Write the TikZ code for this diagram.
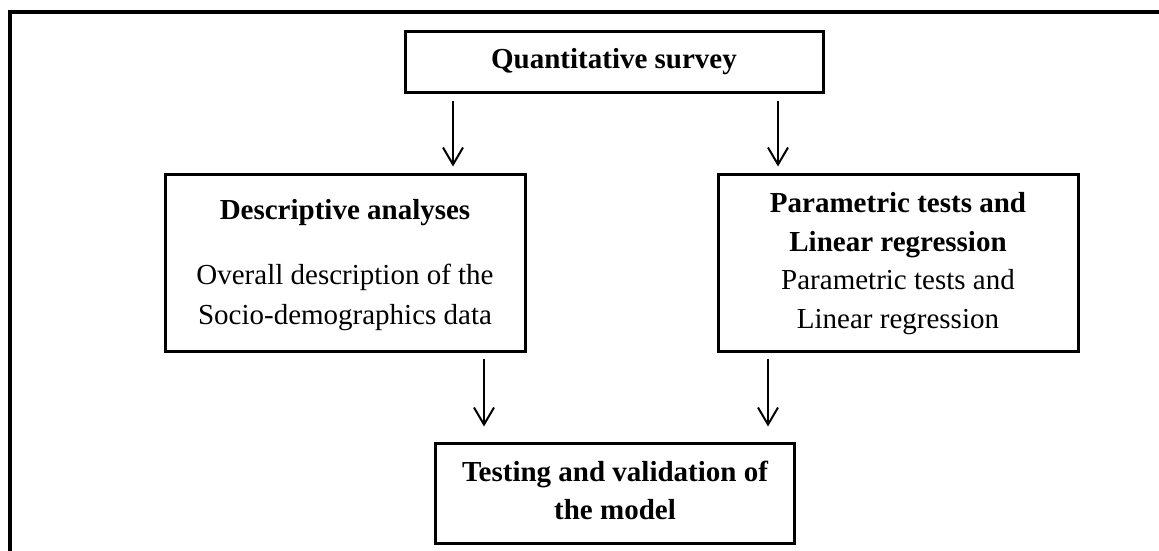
\documentclass[tikz,border=0pt]{standalone}
\usepackage{fontspec}
\setmainfont{Liberation Serif}
\usetikzlibrary{arrows.meta}
\begin{document}
\begin{tikzpicture}[x=1pt,y=-1pt,
  box/.style={draw,line width=3pt,inner sep=0pt,fill=white},
  txt/.style={anchor=base,inner sep=0pt,font=\fontsize{29}{38}\selectfont},
  btxt/.style={txt,font=\fontsize{29}{38}\selectfont\bfseries},
  flow/.style={line width=2pt,-{Straight Barb[length=17pt,width=20pt]}}]
\useasboundingbox (0,0) rectangle (1159,551);
% page frame (top and left rules)
\draw[line width=4pt] (10,551) -- (10,12.5) -- (1159,12.5);

% boxes
\node[box,minimum width=418pt,minimum height=60pt] (qs) at (614,62) {};
\node[box,minimum width=360pt,minimum height=177pt] (desc) at (345,262.5) {};
\node[box,minimum width=360pt,minimum height=177pt] (param) at (898,262.5) {};
\node[box,minimum width=359pt,minimum height=100pt] (test) at (614.5,493) {};

% box texts
\node[btxt] (qsT) at (614,68) {Quantitative survey};
\node[btxt] (descT) at (345,219) {Descriptive analyses};
\node[txt] (descA) at (345,284) {Overall description of the};
\node[txt] (descB) at (345,324) {Socio-demographics data};
\node[btxt] (parT1) at (898,212.5) {Parametric tests and};
\node[btxt] (parT2) at (898,251) {Linear regression};
\node[txt] (parA) at (898,289) {Parametric tests and};
\node[txt] (parB) at (898,328) {Linear regression};
\node[btxt] (testT1) at (615,481) {Testing and validation of};
\node[btxt] (testT2) at (615,519) {the model};

% connectors
\draw[flow,shorten <=7pt,shorten >=6pt] (qs.south -| 453,0) -- (desc.north -| 453,0);
\draw[flow,shorten <=7pt,shorten >=6pt] (qs.south -| 778,0) -- (param.north -| 778,0);
\draw[flow,shorten <=6pt,shorten >=15pt] (desc.south -| 484,0) -- (test.north -| 484,0);
\draw[flow,shorten <=6pt,shorten >=15pt] (param.south -| 768,0) -- (test.north -| 768,0);
\end{tikzpicture}
\end{document}
